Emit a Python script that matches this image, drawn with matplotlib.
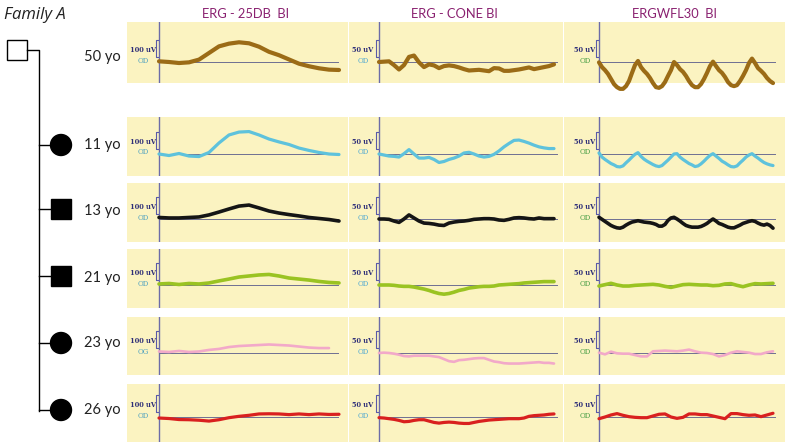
import numpy as np
import matplotlib.pyplot as plt
from matplotlib.patches import Rectangle, Circle

# family A: age, sex, affected
ages = ["50 yo", "11 yo", "13 yo", "21 yo", "23 yo", "26 yo"]
sexes = ["M", "F", "M", "M", "F", "F"]
affected = [False, True, True, True, True, True]
eyes = [["OD", "OD", "OD"], ["OD", "OD", "OD"], ["OD", "OD", "OD"],
        ["OD", "OD", "OD"], ["OG", "OD", "OD"], ["OD", "OD", "OD"]]

protocols = ["ERG - 25DB  BI", "ERG - CONE BI", "ERGWFL30  BI"]
scale_uv = [100, 50, 50]

# ERG traces in uV (rod: 10 px steps, cone: 5 px steps, flicker: evenly over sweep)
rod_50 = [4, 0, -6, -2, 14, 53, 92, 108, 116, 110, 90, 60, 40, 15, -10, -25, -37, -45, -47]
cone_50 = [0, 1, 2, -9, -22, -9, 15, 19, -1, -15, -7, -10, -18, -12, -10, -12, -16, -21,
           -25, -24, -23, -25, -27, -18, -19, -26, -26, -24, -22, -19, -16, -21, -18, -15, -12, -7]
flicker_50 = [-1, -15, -24, -35, -50, -65, -74, -79, -79, -71, -56, -32, -9, 3, -15, -26, -35,
              -47, -62, -74, -76, -71, -59, -41, -24, 0, -9, -21, -29, -41, -56, -68, -74, -74,
              -65, -50, -32, -12, 1, -12, -24, -32, -44, -59, -68, -71, -68, -56, -41, -24, -3,
              10, -3, -18, -26, -35, -47, -56, -62]

rod_11 = [0, -9, 3, -12, -15, 9, 65, 112, 129, 132, 112, 88, 71, 56, 35, 21, 9, 0, -3]
cone_11 = [0, -3, -6, -7, -9, 1, 13, 0, -12, -12, -10, -16, -25, -22, -16, -12, -6, 3, 5, 0,
           -6, -9, -7, -1, 9, 21, 31, 40, 41, 37, 32, 26, 21, 18, 16, 16]
flicker_11 = [3, -9, -16, -22, -28, -32, -37, -38, -35, -26, -18, -9, -1, 4, -7, -15, -21, -26,
              -31, -35, -37, -34, -26, -18, -9, 0, 1, -9, -16, -22, -28, -32, -37, -35, -29,
              -21, -12, -4, 1, -6, -13, -21, -26, -32, -37, -38, -35, -26, -18, -9, -3, 1, -6,
              -12, -19, -25, -29, -32, -34]

rod_13 = [9, 6, 6, 9, 12, 24, 41, 59, 76, 82, 65, 47, 35, 26, 18, 9, 3, -3, -12]
cone_13 = [0, 0, -1, -6, -10, 0, 12, 3, -6, -12, -13, -15, -18, -19, -12, -9, -7, -6, -4, -1,
           0, 1, 1, 0, -3, -4, -1, 3, 4, 3, 1, 0, 3, 1, 1, 1]
flicker_13 = [5, -1, -7, -13, -19, -23, -26, -27, -24, -18, -13, -9, -7, -5, -7, -9, -10, -11,
              -13, -16, -21, -21, -16, -4, 3, 5, 0, -6, -13, -19, -22, -24, -24, -24, -22, -18,
              -13, -6, 0, -6, -13, -16, -20, -24, -26, -26, -22, -18, -13, -10, -7, -5, -7,
              -12, -16, -18, -15, -19, -27]

rod_21 = [6, 9, 3, 9, 6, 12, 24, 35, 47, 53, 59, 62, 53, 41, 35, 29, 21, 15, 12]
cone_21 = [0, 0, 0, -1, -3, -4, -4, -6, -9, -12, -16, -21, -25, -27, -25, -21, -16, -13, -9,
           -7, -5, -4, -4, -3, 0, 1, 2, 3, 4, 6, 7, 8, 9, 10, 10, 10]
flicker_21 = [-3, 1, 5, 0, -3, -3, -1, 0, 1, 2, 0, -4, -7, -3, 1, 2, 1, 0, 0, -2, -1, 3, 4, -1,
              -5, 0, 4, 3, 4, 5]

rod_23 = [9, 6, 12, 6, 9, 18, 24, 35, 41, 44, 47, 50, 47, 44, 38, 32, 29, 29]
cone_23 = [0, 1, 0, -2, -5, -9, -10, -8, -8, -8, -8, -10, -12, -18, -24, -26, -21, -20, -18,
           -16, -15, -15, -20, -25, -27, -30, -31, -31, -31, -30, -29, -28, -27, -29, -29, -31]
flicker_23 = [1, -4, 4, -1, -2, -2, -6, -10, -10, 5, 6, 7, 6, 5, 7, 10, 5, 1, 0, -3, -10, -6,
              1, 5, 3, 1, -3, -3, 2, 5]

rod_26 = [-6, -9, -15, -16, -19, -24, -16, -4, 4, 10, 18, 19, 18, 14, 18, 14, 18, 15, 16]
cone_26 = [-2, -3, -5, -7, -10, -14, -13, -10, -8, -8, -12, -16, -18, -16, -15, -16, -18, -19,
           -19, -16, -13, -11, -9, -8, -7, -6, -5, -5, -5, -3, 2, 4, 5, 6, 8, 9]
flicker_26 = [-5, 0, 6, 10, 5, 1, -1, -2, -2, 3, 8, 9, 0, -4, -1, 9, 9, 7, 7, 3, -1, -5, 10,
              10, 7, 5, 6, 1, 6, 11]

traces = [[rod_50, cone_50, flicker_50], [rod_11, cone_11, flicker_11],
          [rod_13, cone_13, flicker_13], [rod_21, cone_21, flicker_21],
          [rod_23, cone_23, flicker_23], [rod_26, cone_26, flicker_26]]
trace_colors = ["#9b6b16", "#5ec2dc", "#151515", "#9ac322", "#f2a9c9", "#d9201f"]
trace_lw = [3.0, 2.3, 2.6, 2.6, 1.9, 2.3]
od_colors = ["#4a9fc0", "#4aa6d2", "#3f9a3f"]

# layout in pixels (787 x 448)
W, H = 787, 448
col_left = [127, 349, 564]
col_right = [348, 563, 785]
axis_x = [159, 379, 599]
base_len = [179, 178, 176]
row_top = [22, 117, 183, 249, 317, 384]
row_bot = [83, 176, 242, 308, 375, 442]
base_y = [62, 154, 219, 285, 353, 417]
label_y = [57, 145, 211, 278, 343, 410]
bar_px = 17

fig = plt.figure(figsize=(W / 100, H / 100), dpi=100)
bg = fig.add_axes([0, 0, 1, 1])
bg.set_xlim(0, W)
bg.set_ylim(H, 0)
bg.axis("off")

bg.text(4, 15, "Family A", fontsize=12, style="italic", family="Open Sans",
        ha="left", va="center", color="#222222")
for j, title in enumerate(protocols):
    cx = (col_left[j] + col_right[j]) / 2 + [8, -2, 0][j]
    bg.text(cx, 14, title, fontsize=9.3, family="Lato", color="#8a2170",
            ha="center", va="center")

# pedigree
bg.add_patch(Rectangle((7, 40), 20, 20, fc="white", ec="black", lw=1))
bg.plot([27, 39, 39], [50, 50, 411], color="black", lw=1)
for i in range(1, len(ages)):
    cy = label_y[i] if sexes[i] == "F" else label_y[i] - 2
    bg.plot([39, 51], [cy, cy], color="black", lw=1)
    if sexes[i] == "M":
        bg.add_patch(Rectangle((51, cy - 10), 20, 20, fc="black", ec="black"))
    else:
        bg.add_patch(Circle((61, cy), 10.5, fc="black", ec="black"))
for i, age in enumerate(ages):
    bg.text(84, label_y[i], age, fontsize=10.5, family="Lato", color="#222222",
            ha="left", va="center")

for i in range(len(ages)):
    for j in range(3):
        ax = fig.add_axes([col_left[j] / W, 1 - row_bot[i] / H,
                           (col_right[j] - col_left[j]) / W, (row_bot[i] - row_top[i]) / H])
        upp = scale_uv[j] / bar_px
        ax.set_xlim(col_left[j] - axis_x[j], col_right[j] - axis_x[j])
        ax.set_ylim(-(row_bot[i] - base_y[i]) * upp, (base_y[i] - row_top[i]) * upp)
        ax.set_facecolor("#fbf3c1")
        ax.set_xticks([])
        ax.set_yticks([])
        for s in ax.spines.values():
            s.set_visible(False)

        ax.axvline(0, color="#6c6ca8", lw=1.0)
        ax.plot([0, base_len[j]], [0, 0], color="#6e6e92", lw=0.7)
        y0 = 5 * upp
        ax.plot([-1, -3.5, -3.5, -1], [y0, y0, y0 + scale_uv[j], y0 + scale_uv[j]],
                color="#5a5aa8", lw=0.8)
        tx = -16 if j < 2 else -14
        ax.text(tx, 12 * upp, f"{scale_uv[j]} uV", fontsize=4.8,
                family="DejaVu Serif", weight="bold", color="#2e2e78", ha="center", va="center")
        ax.text(tx, 1.5 * upp, eyes[i][j], fontsize=5,
                family="DejaVu Serif", color=od_colors[j], ha="center", va="center")

        v = traces[i][j]
        if j == 0:
            x = np.arange(len(v)) * 10
        elif j == 1:
            x = np.arange(len(v)) * 5
        else:
            x = np.linspace(0, 174, len(v))
        ax.plot(x, v, color=trace_colors[i], lw=trace_lw[i], solid_capstyle="round",
                solid_joinstyle="round", clip_on=False, zorder=3)

fig.savefig("out.png", dpi=100)
